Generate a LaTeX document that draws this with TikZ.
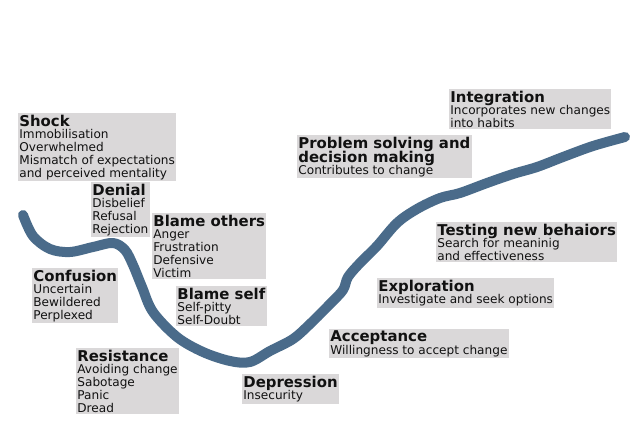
\documentclass[tikz,border=0pt]{standalone}
\usepackage{fontspec}
\setmainfont{DejaVu Sans}
\definecolor{boxgray}{HTML}{DAD8D9}
\definecolor{curveblue}{HTML}{4A6B8A}
\definecolor{txt}{HTML}{111111}
\newcommand\ttl[1]{{\fontsize{14.9}{14}\selectfont\bfseries #1}}
\begin{document}
\begin{tikzpicture}[x=1pt,y=-1pt,
  lbl/.style={fill=boxgray, anchor=north west, align=left, inner xsep=1.2pt, inner ysep=1.5pt,
    text=txt, font=\fontsize{12.1}{12.8}\selectfont},
  curve/.style={draw=curveblue, line width=10pt, line cap=round, line join=round}]
\useasboundingbox (0,0) rectangle (640,425);
\draw[curve] plot[smooth, tension=0.55] coordinates {
 (23,215) (33,236) (50,249) (70,252) (93,247) (113,243) (125,250) (133,265)
 (142,287) (153,312) (177,337) (203,352) (230,361) (250,362) (270,351) (293,339)
 (310,324) (330,304) (343,290) (348,277) (360,263) (377,246) (397,223) (417,209)
 (440,198) (460,193) (487,183) (513,174) (537,167) (563,157) (593,146) (625,137)};
\node[lbl] (shock) at (18,113) {\ttl{Shock}\\Immobilisation\\Overwhelmed\\Mismatch of expectations\\and perceived mentality};
\node[lbl] (denial) at (91,182) {\ttl{Denial}\\Disbelief\\Refusal\\Rejection};
\node[lbl] (blameo) at (152,213) {\ttl{Blame others}\\Anger\\Frustration\\Defensive\\Victim};
\node[lbl] (confusion) at (32,268) {\ttl{Confusion}\\Uncertain\\Bewildered\\Perplexed};
\node[lbl] (blames) at (176,286) {\ttl{Blame self}\\Self-pitty\\Self-Doubt};
\node[lbl] (resistance) at (76,348) {\ttl{Resistance}\\Avoiding change\\Sabotage\\Panic\\Dread};
\node[lbl] (depression) at (242,374) {\ttl{Depression}\\Insecurity};
\node[lbl] (acceptance) at (329,329) {\ttl{Acceptance}\\Willingness to accept change};
\node[lbl] (exploration) at (377,278) {\ttl{Exploration}\\Investigate and seek options};
\node[lbl] (testing) at (436,222) {\ttl{Testing new behaiors}\\Search for meaninig\\and effectiveness};
\node[lbl] (problem) at (297,135) {\ttl{Problem solving and}\\[-1pt]\ttl{decision making}\\[-1pt]Contributes to change};
\node[lbl] (integration) at (449,89) {\ttl{Integration}\\Incorporates new changes\\into habits};
\end{tikzpicture}
\end{document}
